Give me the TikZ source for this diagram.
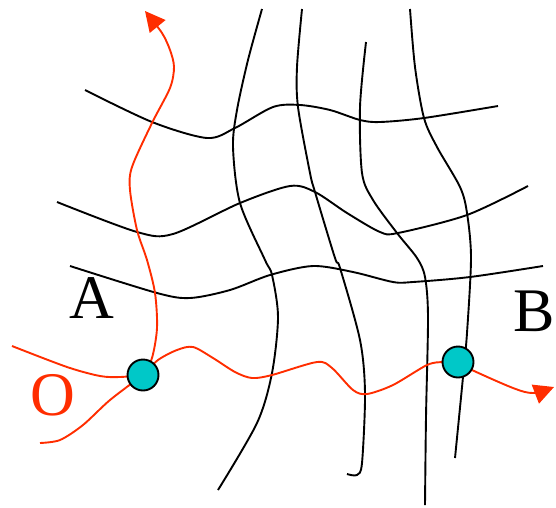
\documentclass[tikz,border=0pt]{standalone}
\usepackage{fontspec}
\setmainfont{Liberation Serif}
\usetikzlibrary{arrows.meta}
\definecolor{redline}{RGB}{255,45,0}
\definecolor{dotfill}{RGB}{0,200,200}
\tikzset{
  grid/.style={line width=1.9pt, black},
  path/.style={line width=1.9pt, redline},
  arrowpath/.style={path, -{Triangle[length=20pt,width=20pt]}},
  dot/.style={circle, draw=black, line width=1.9pt, fill=dotfill, minimum size=31pt, inner sep=0pt},
  lbl/.style={font=\fontsize{62}{62}\selectfont, inner sep=0pt}
}
\begin{document}
\begin{tikzpicture}[x=1pt,y=-1pt]
\useasboundingbox (0,0) rectangle (556,507);
\coordinate (A) at (143,375);
\coordinate (B) at (458,362);
\coordinate (topend) at (145,11);
\coordinate (rightend) at (554,387);
\coordinate (leftA) at (12,346);
\coordinate (leftB) at (40,443);
% black grid lines
\draw[grid] plot[smooth] coordinates {(85,90) (152,122) (207,138) (235,128) (273,107) (300,105) (330,110) (360,120) (380,122) (424,118) (498,106)};
\draw[grid] plot[smooth] coordinates {(57,202) (137,232) (173,234) (240,203) (290,186) (315,192) (347,213) (380,232) (398,233) (467,215) (528,186)};
\draw[grid] plot[smooth] coordinates {(70,266) (157,293) (190,298) (230,290) (270,275) (313,266) (353,272) (393,282) (413,282) (470,277) (543,266)};
\draw[grid] plot[smooth] coordinates {(262,9) (248,60) (237,110) (233,147) (240,203) (265,260) (272,275) (278,317) (272,373) (257,423) (218,490)};
\draw[grid] plot[smooth] coordinates {(302,9) (297,67) (298,107) (310,173) (315,192) (335,258) (340,268) (360,340) (365,393) (362,463) (357,475) (347,474)};
\draw[grid] plot[smooth] coordinates {(366,42) (360,107) (362,173) (373,200) (397,233) (417,258) (425,277) (428,317) (426,417) (425,505)};
\draw[grid] plot[smooth] coordinates {(410,9) (415,67) (424,118) (437,147) (460,187) (467,213) (471,258) (467,333) (463,377) (455,458)};
% red paths
\draw[arrowpath] plot[smooth] coordinates {(A) (152,358) (157,328) (155,293) (147,260) (137,230) (130,190) (132,167) (152,123) (170,88) (174,67) (170,50) (162,33) (topend)};
\draw[path] plot[smooth] coordinates {(leftA) (67,367) (100,376) (120,377) (A)};
\draw[path] plot[smooth] coordinates {(leftB) (60,440) (83,425) (110,400) (A)};
\draw[path] plot[smooth] coordinates {(A) (158,360) (177,350) (193,347) (213,358) (235,372) (252,378) (272,375) (317,362) (332,368) (353,390) (367,394) (393,385) (427,365) (443,362) (B)};
\draw[arrowpath] plot[smooth] coordinates {(B) (472,370) (513,388) (533,393) (rightend)};
% dots
\node[dot] (dotA) at (A) {};
\node[dot] (dotB) at (B) {};
% labels
\node[lbl] (labA) at (92,298) {A};
\node[lbl] (labB) at (534,311) {B};
\node[lbl, text=redline] (labO) at (53,395) {O};
\end{tikzpicture}
\end{document}
